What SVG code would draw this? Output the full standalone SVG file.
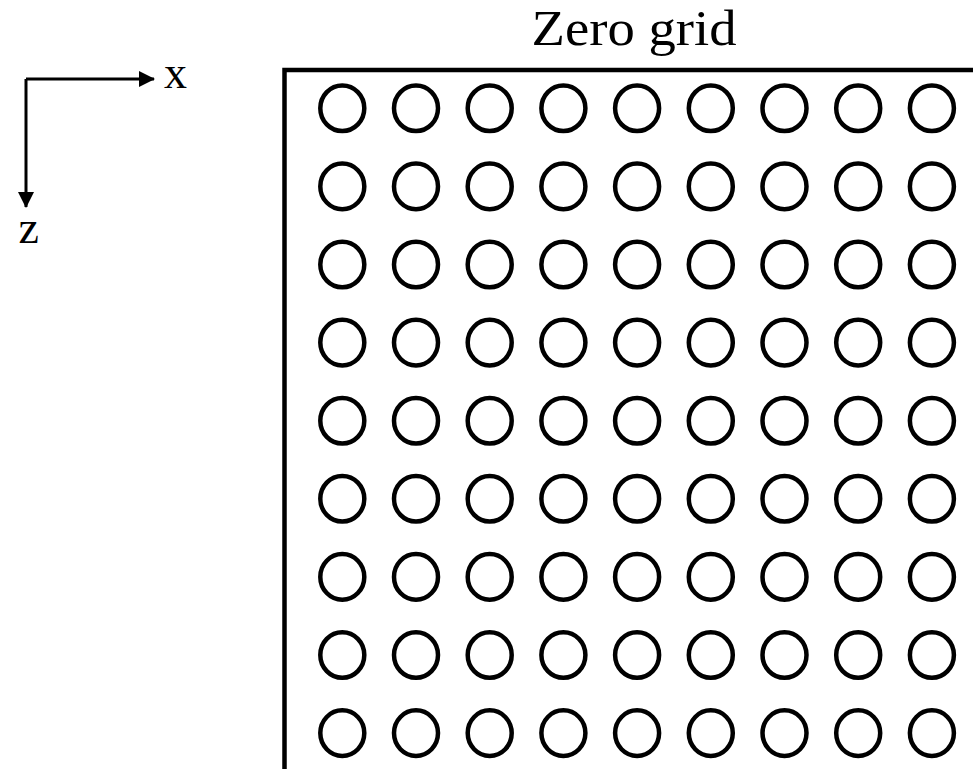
<svg xmlns="http://www.w3.org/2000/svg" width="973" height="769" viewBox="0 0 973 769">
  <defs>
    <style>
      .lbl { font-family: "Liberation Serif", "Times New Roman", serif; fill: #000; }
      .axis { stroke: #000; stroke-width: 3; fill: none; }
      .frame { stroke: #000; stroke-width: 4.5; fill: none; }
      .node { stroke: #000; stroke-width: 4.5; fill: #fff; }
    </style>
    <marker id="arrow" viewBox="0 0 16 16" refX="15" refY="8" markerWidth="16" markerHeight="16" markerUnits="userSpaceOnUse" orient="auto">
      <path d="M0,0 L16,8 L0,16 Z" fill="#000"/>
    </marker>
    <ellipse id="pt" cx="0" cy="0" rx="22" ry="22.8" class="node"/>
  </defs>
  <rect width="973" height="769" fill="#fff"/>

  <!-- coordinate axes -->
  <g id="axes">
    <path class="axis" d="M26,79 H154" marker-end="url(#arrow)"/>
    <path class="axis" d="M26,79 V207" marker-end="url(#arrow)"/>
    <text class="lbl" x="164" y="88" font-size="46">x</text>
    <text class="lbl" x="18.5" y="243" font-size="46">z</text>
  </g>

  <!-- title -->
  <text id="title" class="lbl" x="531.5" y="45" font-size="50" textLength="205" lengthAdjust="spacingAndGlyphs">Zero grid</text>

  <!-- grid boundary -->
  <g id="frame">
    <path class="frame" d="M284.5,769 V70 H973"/>
  </g>

  <!-- 9 x 9 grid points -->
  <g id="grid">
    <g id="row1" transform="translate(0,108.3)">
      <use href="#pt" x="342.3"/><use href="#pt" x="416"/><use href="#pt" x="489.7"/><use href="#pt" x="563.4"/><use href="#pt" x="637.1"/><use href="#pt" x="710.8"/><use href="#pt" x="784.5"/><use href="#pt" x="858.2"/><use href="#pt" x="931.9"/>
    </g>
    <g id="row2" transform="translate(0,186.4)">
      <use href="#pt" x="342.3"/><use href="#pt" x="416"/><use href="#pt" x="489.7"/><use href="#pt" x="563.4"/><use href="#pt" x="637.1"/><use href="#pt" x="710.8"/><use href="#pt" x="784.5"/><use href="#pt" x="858.2"/><use href="#pt" x="931.9"/>
    </g>
    <g id="row3" transform="translate(0,264.5)">
      <use href="#pt" x="342.3"/><use href="#pt" x="416"/><use href="#pt" x="489.7"/><use href="#pt" x="563.4"/><use href="#pt" x="637.1"/><use href="#pt" x="710.8"/><use href="#pt" x="784.5"/><use href="#pt" x="858.2"/><use href="#pt" x="931.9"/>
    </g>
    <g id="row4" transform="translate(0,342.6)">
      <use href="#pt" x="342.3"/><use href="#pt" x="416"/><use href="#pt" x="489.7"/><use href="#pt" x="563.4"/><use href="#pt" x="637.1"/><use href="#pt" x="710.8"/><use href="#pt" x="784.5"/><use href="#pt" x="858.2"/><use href="#pt" x="931.9"/>
    </g>
    <g id="row5" transform="translate(0,420.7)">
      <use href="#pt" x="342.3"/><use href="#pt" x="416"/><use href="#pt" x="489.7"/><use href="#pt" x="563.4"/><use href="#pt" x="637.1"/><use href="#pt" x="710.8"/><use href="#pt" x="784.5"/><use href="#pt" x="858.2"/><use href="#pt" x="931.9"/>
    </g>
    <g id="row6" transform="translate(0,498.8)">
      <use href="#pt" x="342.3"/><use href="#pt" x="416"/><use href="#pt" x="489.7"/><use href="#pt" x="563.4"/><use href="#pt" x="637.1"/><use href="#pt" x="710.8"/><use href="#pt" x="784.5"/><use href="#pt" x="858.2"/><use href="#pt" x="931.9"/>
    </g>
    <g id="row7" transform="translate(0,576.9)">
      <use href="#pt" x="342.3"/><use href="#pt" x="416"/><use href="#pt" x="489.7"/><use href="#pt" x="563.4"/><use href="#pt" x="637.1"/><use href="#pt" x="710.8"/><use href="#pt" x="784.5"/><use href="#pt" x="858.2"/><use href="#pt" x="931.9"/>
    </g>
    <g id="row8" transform="translate(0,655)">
      <use href="#pt" x="342.3"/><use href="#pt" x="416"/><use href="#pt" x="489.7"/><use href="#pt" x="563.4"/><use href="#pt" x="637.1"/><use href="#pt" x="710.8"/><use href="#pt" x="784.5"/><use href="#pt" x="858.2"/><use href="#pt" x="931.9"/>
    </g>
    <g id="row9" transform="translate(0,733.1)">
      <use href="#pt" x="342.3"/><use href="#pt" x="416"/><use href="#pt" x="489.7"/><use href="#pt" x="563.4"/><use href="#pt" x="637.1"/><use href="#pt" x="710.8"/><use href="#pt" x="784.5"/><use href="#pt" x="858.2"/><use href="#pt" x="931.9"/>
    </g>
  </g>
</svg>
